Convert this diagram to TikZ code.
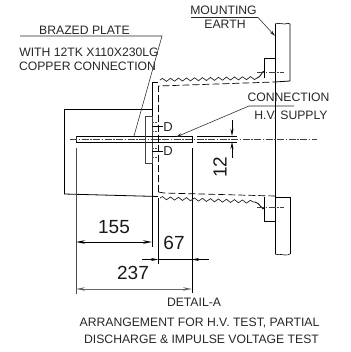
\documentclass[tikz,border=0pt]{standalone}
\usepackage{fontspec}
\setmainfont{Liberation Sans}
\usetikzlibrary{arrows.meta,decorations.pathmorphing}
\tikzset{
  x=1pt,y=-1pt,
  obj/.style={line width=0.8pt,black},
  thin obj/.style={line width=0.55pt,black!85},
  hid/.style={line width=0.7pt,black,dash pattern=on 7pt off 3pt},
  shortdash/.style={line width=0.6pt,black!70,dash pattern=on 2pt off 1pt},
  center line/.style={line width=0.6pt,black!75,dash pattern=on 7pt off 1.5pt on 1.5pt off 1.5pt},
  wave/.style={line width=0.7pt,black!85,decorate,decoration={snake,amplitude=1.5pt,segment length=8pt}},
  dimline/.style={line width=0.7pt,black},
  dimtip/.style={-{Stealth[length=7pt,width=3pt]},dimline},
  lab/.style={inner sep=0pt,font=\fontsize{12.2}{14}\selectfont,text=black!85},
  dimtxt/.style={inner sep=0pt,font=\fontsize{19}{21}\selectfont,text=black!90}
}
\begin{document}
\begin{tikzpicture}
\useasboundingbox (0,0) rectangle (350,352);
% cover outline
\draw[obj] (64,194) -- (64,109) -- (152,109);
\draw[obj] (64,194) -- (158,196.5);
% wall and extension lines
\draw[obj] (158,82) -- (152,82) -- (152,247);
\draw[obj] (158,198) -- (158,264);
\draw[line width=1pt,black!70] (76,148) -- (76,294);
\draw[obj] (192,148) -- (192,293);
% bushing, hidden inner outline
\draw[hid] (158.5,192) -- (158.5,86) -- (275,82);
\draw[hid] (158.5,192) -- (164,193) -- (275,196);
% sheds
\draw[wave] (160,80) -- (257,78);
\draw[obj] (257,78) to[out=0,in=100] (264,72);
\draw[wave] (160,198) -- (255,202);
\draw[obj] (255,202) to[out=0,in=-100] (264,208);
% flange, upper
\draw[obj] (264,78) -- (264,58) -- (275,58);
\draw[obj] (264,197) -- (264,221) -- (275,221);
\draw[obj] (275,82) -- (290,81) -- (290,24);
\draw[obj] (275,197.5) -- (290,197.5) -- (290,254);
\draw[obj] (275,24) -- (275,254);
\draw[line width=0.6pt] (275,24) .. controls (280,22) and (282,25) .. (285,24) .. controls (287,23) and (289,23) .. (290,24);
\draw[line width=0.6pt] (275,254) .. controls (280,256) and (282,253) .. (285,255) .. controls (287,255) and (289,255) .. (290,254);
\draw[center line] (257,72) -- (284,72);
\draw[center line] (257,207) -- (284,207);
% rod
\draw[obj] (76,136) -- (192,136) -- (192,142) -- (76,142);
\draw[thin obj] (76,136) -- (76,142);
\draw[center line] (70,139) -- (317,139);
% plate and studs
\draw[line width=0.8pt,black!75,fill=white] (145.5,116) rectangle (152,163);
\draw[obj] (145.5,136) -- (192,136);
\draw[obj] (145.5,142) -- (192,142);
\draw[center line] (70,139) -- (160,139);
\draw[shortdash] (152,122) -- (158,122) (152,131) -- (158,131) (152,148) -- (158,148) (152,157) -- (158,157);
\draw[obj] (152,126.5) -- (163,126.5);
\draw[obj] (152,151.5) -- (163,151.5);
\node[lab,font=\fontsize{13}{14}\selectfont] (d1) at (168,127) {D};
\node[lab,font=\fontsize{13}{14}\selectfont] (d2) at (168,151.5) {D};
% leaders
\coordinate (bp0) at (20,36);
\coordinate (bp1) at (162,36);
\coordinate (bp2) at (134,136);
\draw[thin obj] (bp0) -- (bp1) -- (bp2);
\coordinate (me0) at (191,17.5);
\coordinate (me1) at (258,17.5);
\coordinate (me2) at (275,36);
\draw[thin obj,-{Stealth[length=6pt,width=3pt]}] (me0) -- (me1) -- (me2);
\coordinate (hv0) at (294,106);
\coordinate (hv1) at (249,106);
\coordinate (hv2) at (176,137);
\draw[thin obj,-{Stealth[length=6pt,width=3pt]}] (hv0) -- (hv1) -- (hv2);
% dimension 12
\draw[dimline] (197,136) -- (237,136);
\draw[dimline] (197,142) -- (237,142);
\coordinate (t1) at (232,120); \coordinate (t2) at (232,136);
\coordinate (t3) at (232,158); \coordinate (t4) at (232,142);
\draw[dimtip] (t1) -- (t2);
\draw[dimtip] (t3) -- (t4);
\node[dimtxt,rotate=90] (n12) at (220,167) {12};
% dimension 155
\coordinate (a1) at (76,242); \coordinate (a2) at (152,242);
\draw[dimline,{Stealth[length=9pt,width=3.5pt]}-{Stealth[length=9pt,width=3.5pt]}] (a1) -- (a2);
\node[dimtxt] (n155) at (114,227) {155};
% dimension 67
\coordinate (b1) at (142,259.5); \coordinate (b2) at (158,259.5);
\coordinate (b3) at (209,259.5); \coordinate (b4) at (192,259.5);
\draw[dimtip] (b1) -- (b2);
\draw[dimtip] (b3) -- (b4);
\draw[dimline] (b2) -- (b4);
\node[dimtxt] (n67) at (174,243) {67};
% dimension 237
\coordinate (c1) at (76,289); \coordinate (c2) at (192,289);
\draw[line width=0.9pt,black!60,{Stealth[length=9pt,width=3.5pt]}-{Stealth[length=9pt,width=3.5pt]}] (c1) -- (c2);
\node[dimtxt] (n237) at (133,273) {237};
% labels
\node[lab] (brazed) at (84.5,30.5) {BRAZED PLATE};
\node[lab] (with) at (89,52.5) {WITH 12TK X110X230LG};
\node[lab] (copper) at (87.5,66) {COPPER CONNECTION};
\node[lab] (mount) at (223.5,10) {MOUNTING};
\node[lab] (earth) at (225,24) {EARTH};
\node[lab] (conn) at (288.5,97) {CONNECTION};
\node[lab] (hvs) at (291,115) {H.V. SUPPLY};
\node[lab] (detail) at (194,302) {DETAIL-A};
\node[lab] (arr) at (199.5,323) {ARRANGEMENT FOR H.V. TEST, PARTIAL};
\node[lab] (dis) at (201.5,339) {DISCHARGE \& IMPULSE VOLTAGE TEST};
\end{tikzpicture}
\end{document}
